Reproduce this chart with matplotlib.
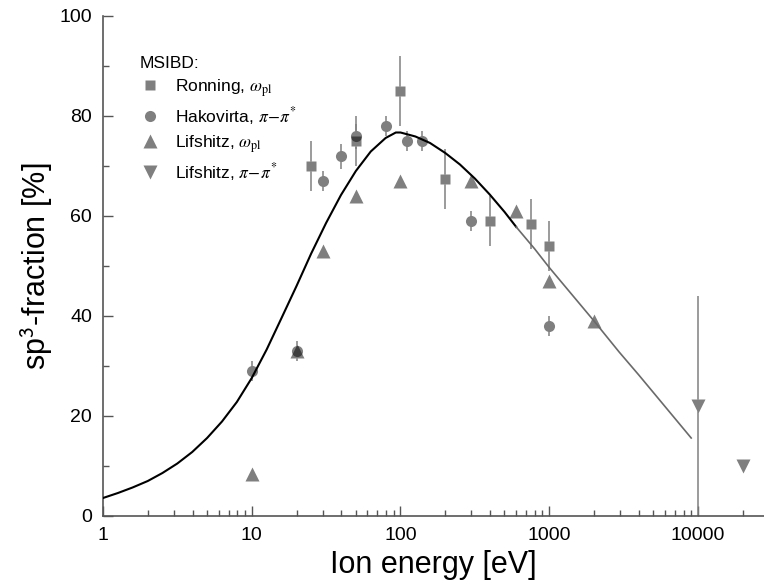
import matplotlib
matplotlib.use('Agg')
import matplotlib.pyplot as plt
from matplotlib.ticker import FixedLocator, FixedFormatter, MultipleLocator, NullFormatter

plt.rcParams['font.family'] = ['Liberation Sans', 'DejaVu Sans']
plt.rcParams['mathtext.fontset'] = 'stix'

# ---------------- data ----------------
ron_x = [25, 50, 100, 200, 400, 750, 1000]
ron_y = [70, 75, 85, 67.5, 59, 58.5, 54]
ron_err = [5, 5, 7, 6, 5, 5, 5]

hak_x = [10, 20, 30, 40, 50, 80, 110, 140, 300, 1000]
hak_y = [29, 33, 67, 72, 76, 78, 75, 75, 59, 38]
hak_err = [2, 2, 2, 2.5, 2.5, 2, 2, 2, 2, 2]

lifw_x = [10, 20, 30, 50, 100, 300, 600, 1000, 2000]
lifw_y = [8.5, 33, 53, 64, 67, 67, 61, 47, 39]

lifp_x = [10000, 20000]
lifp_y = [22, 10]
lifp_err = [22, 0]

# model curve (black part, then grey part)
curve_x = [1, 1.26, 1.58, 2.0, 2.51, 3.16, 3.98, 5.01, 6.31, 7.94, 10, 12.6,
           15.8, 20, 25.1, 31.6, 39.8, 50.1, 63.1, 79.4, 93, 100, 126, 158,
           200, 251, 316, 398, 501, 600]
curve_y = [3.6, 4.6, 5.7, 7.0, 8.6, 10.5, 12.8, 15.6, 18.9, 22.8, 27.6, 33.3,
           39.5, 46.0, 52.5, 58.6, 64.2, 69.0, 72.9, 75.6, 76.7, 76.7, 75.9,
           74.6, 72.6, 70.3, 67.5, 64.3, 60.8, 57.8]
tail_x = [600, 794, 1000, 2000, 2950, 4000, 9000]
tail_y = [57.8, 53.5, 49.7, 39.0, 32.8, 28.2, 15.6]

xticks = [1, 10, 100, 1000, 10000]
xtick_labels = ['1', '10', '100', '1000', '10000']

legend_title = 'MSIBD:'
labels = [r'Ronning, $\omega_{\rm pl}$', r'Hakovirta, $\pi\!-\!\pi^{*}$',
          r'Lifshitz, $\omega_{\rm pl}$', r'Lifshitz, $\pi\!-\!\pi^{*}$']

# ---------------- figure ----------------
W, H = 764, 587
fig = plt.figure(figsize=(W / 100, H / 100), dpi=100)
ax = fig.add_axes([103 / W, 1 - 516 / H, (W - 103) / W, 500 / H])

ebar_col = '#808080'
mk_col = (0, 0, 0, 0.5)
ekw = dict(fmt='none', ecolor=ebar_col, elinewidth=1.1, capsize=0, zorder=2)

ax.errorbar(ron_x, ron_y, yerr=ron_err, **ekw)
ax.errorbar(hak_x, hak_y, yerr=hak_err, **ekw)
ax.errorbar(lifp_x, lifp_y, yerr=lifp_err, **ekw)

series = [
    (ron_x, ron_y, 's', 7.6),
    (hak_x, hak_y, 'o', 8.0),
    (lifw_x, lifw_y, '^', 10.0),
    (lifp_x, lifp_y, 'v', 10.0),
]
handles = []
for xs, ys, m, ms in series:
    # white underlay hides the error bars inside the markers
    ax.plot(xs, ys, ls='none', marker=m, ms=ms, mfc='white', mec='none', zorder=3)
for (xs, ys, m, ms), lab in zip(series, labels):
    h, = ax.plot(xs, ys, ls='none', marker=m, ms=ms, mfc=mk_col, mec='none',
                 zorder=4, label=lab)
    handles.append(h)

ax.plot(curve_x, curve_y, color='black', lw=1.5, zorder=5,
        solid_joinstyle='round')
ax.plot(tail_x, tail_y, color='#6a6a6a', lw=1.2, zorder=5,
        solid_joinstyle='round')

ax.set_xscale('log')
ax.set_xlim(1, 10 ** ((W - 103) / 148.75))
ax.set_ylim(0, 100)

ax.xaxis.set_major_locator(FixedLocator(xticks))
ax.xaxis.set_major_formatter(FixedFormatter(xtick_labels))
ax.xaxis.set_minor_formatter(NullFormatter())
ax.yaxis.set_major_locator(MultipleLocator(20))
ax.yaxis.set_minor_locator(MultipleLocator(10))

spine_col = '#555555'
for s in ['top', 'right']:
    ax.spines[s].set_visible(False)
for s in ['left', 'bottom']:
    ax.spines[s].set_color(spine_col)
    ax.spines[s].set_linewidth(1.2)
ax.tick_params(which='both', direction='in', color=spine_col, labelsize=14,
               labelcolor='black')
ax.tick_params(which='major', length=7.5, width=1.0)
ax.tick_params(which='minor', length=4, width=1.0)
ax.tick_params(axis='x', pad=8)
ax.tick_params(axis='y', pad=8)

ax.set_xlabel('Ion energy [eV]', fontsize=22, labelpad=4)
ax.set_ylabel(r'sp$^{\mathsf{3}}$-fraction [%]', fontsize=22)
ax.yaxis.set_label_coords(-0.072, 0.5)

leg = ax.legend(handles=handles, title=legend_title, loc='upper left',
                bbox_to_anchor=(131 / W, 1 - 47 / H), bbox_transform=fig.transFigure,
                frameon=False, fontsize=12.5, title_fontsize=12.5, borderpad=0,
                handlelength=1.2, handletextpad=0.85, labelspacing=0.36,
                alignment='left')

fig.savefig('out.png', dpi=100)
